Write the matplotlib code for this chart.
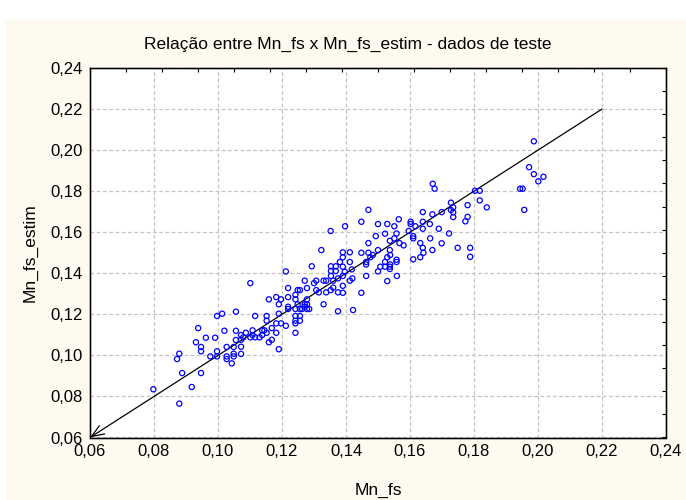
import numpy as np
import matplotlib
matplotlib.use("Agg")
import matplotlib.pyplot as plt
from matplotlib.ticker import FuncFormatter

plt.rcParams['font.family'] = ['Liberation Sans', 'DejaVu Sans']

mn_fs = [
    0.0798, 0.0879, 0.0918, 0.0888, 0.0872, 0.0879, 0.0938, 0.0931, 0.0947, 0.0947,
    0.0962, 0.0947, 0.0976, 0.0991, 0.0997, 0.1013, 0.0997, 0.0997, 0.1020, 0.1027,
    0.1027, 0.1027, 0.1043, 0.1049, 0.1049, 0.1049, 0.1056, 0.1056, 0.1056,
    0.1072, 0.1072, 0.1072, 0.1072, 0.1079, 0.1087, 0.1101, 0.1108, 0.1108, 0.1116,
    0.1130, 0.1138, 0.1145, 0.1138, 0.1101, 0.1116, 0.1152, 0.1152, 0.1152, 0.1159,
    0.1168, 0.1168, 0.1182, 0.1182, 0.1190, 0.1190, 0.1197, 0.1212, 0.1159, 0.1182,
    0.1190, 0.1197, 0.1212, 0.1219, 0.1219, 0.1219, 0.1219, 0.1242, 0.1242, 0.1242,
    0.1242, 0.1242, 0.1242, 0.1242, 0.1249, 0.1256, 0.1249, 0.1256, 0.1256, 0.1256,
    0.1263, 0.1271, 0.1271, 0.1271, 0.1278, 0.1278, 0.1278, 0.1278, 0.1285, 0.1293,
    0.1300, 0.1307, 0.1307, 0.1315, 0.1323, 0.1330, 0.1330, 0.1338, 0.1338, 0.1352,
    0.1352, 0.1353, 0.1353, 0.1353, 0.1360, 0.1360, 0.1368, 0.1368, 0.1375, 0.1375,
    0.1375,
    0.1470, 0.1448, 0.1397, 0.1671, 0.1677, 0.1640, 0.1670, 0.1602, 0.1602, 0.1617,
    0.1640, 0.1662, 0.1690, 0.1565, 0.1529, 0.1500, 0.1551, 0.1522, 0.1493, 0.1537,
    0.1567, 0.1580, 0.1558, 0.1551, 0.1596, 0.1610, 0.1610, 0.1640, 0.1632, 0.1663,
    0.1640, 0.1642, 0.1670, 0.1632, 0.1610, 0.1470, 0.1448, 0.1470, 0.1500, 0.1484,
    0.1476, 0.1463, 0.1463, 0.1537, 0.1529, 0.1538, 0.1538, 0.1522, 0.1507, 0.1522,
    0.1537, 0.1537, 0.1558, 0.1558, 0.1500, 0.1559, 0.1529, 0.1463, 0.1448, 0.1418,
    0.1412, 0.1412, 0.1390, 0.1390, 0.1390, 0.1390, 0.1390, 0.1381, 0.1396, 0.1390,
    0.1420, 0.1412, 0.1422,
    0.1987, 0.1972, 0.1987, 0.2001, 0.1944, 0.1952, 0.1957, 0.1803, 0.1818, 0.1818,
    0.1840, 0.1780, 0.1728, 0.1735, 0.1728, 0.1735, 0.1735, 0.1780, 0.1773, 0.1699,
    0.1722, 0.1699, 0.1749, 0.1788, 0.1788, 0.2017,
]
mn_fs_estim = [
    0.0835, 0.0765, 0.0846, 0.0914, 0.0982, 0.1008, 0.1133, 0.1064, 0.1041, 0.1020,
    0.1086, 0.0914, 0.0995, 0.1086, 0.1192, 0.1203, 0.1020, 0.0995, 0.1120, 0.1041,
    0.0995, 0.0982, 0.0961, 0.1041, 0.1008, 0.0995, 0.1213, 0.1120, 0.1075,
    0.1099, 0.1076, 0.1042, 0.1007, 0.1088, 0.1110, 0.1088, 0.1122, 0.1099, 0.1088,
    0.1088, 0.1122, 0.1122, 0.1099, 0.1352, 0.1192, 0.1192, 0.1169, 0.1110, 0.1064,
    0.1076, 0.1133, 0.1156, 0.1110, 0.1203, 0.1030, 0.1156, 0.1144, 0.1273, 0.1284,
    0.1249, 0.1273, 0.1409, 0.1328, 0.1284, 0.1237, 0.1226, 0.1295, 0.1273, 0.1226,
    0.1192, 0.1169, 0.1156, 0.1110, 0.1318, 0.1318, 0.1249, 0.1226, 0.1192, 0.1169,
    0.1226, 0.1364, 0.1249, 0.1237, 0.1328, 0.1273, 0.1249, 0.1226, 0.1226, 0.1434,
    0.1352, 0.1364, 0.1318, 0.1307, 0.1513, 0.1364, 0.1249, 0.1364, 0.1307, 0.1606,
    0.1318, 0.1434, 0.1411, 0.1387, 0.1364, 0.1330, 0.1434, 0.1411, 0.1375, 0.1307,
    0.1215,
    0.1709, 0.1651, 0.1629, 0.1836, 0.1812, 0.1698, 0.1687, 0.1651, 0.1640, 0.1629,
    0.1651, 0.1640, 0.1617, 0.1663, 0.1640, 0.1640, 0.1629, 0.1593, 0.1581, 0.1558,
    0.1547, 0.1536, 0.1594, 0.1570, 0.1606, 0.1581, 0.1570, 0.1617, 0.1547, 0.1570,
    0.1524, 0.1500, 0.1513, 0.1478, 0.1468, 0.1547, 0.1500, 0.1500, 0.1513, 0.1489,
    0.1478, 0.1455, 0.1443, 0.1513, 0.1478, 0.1489, 0.1443, 0.1455, 0.1432, 0.1432,
    0.1432, 0.1421, 0.1466, 0.1455, 0.1409, 0.1387, 0.1362, 0.1387, 0.1305, 0.1419,
    0.1455, 0.1502, 0.1502, 0.1478, 0.1432, 0.1339, 0.1305, 0.1455, 0.1407, 0.1387,
    0.1375, 0.1364, 0.1221,
    0.2043, 0.1917, 0.1883, 0.1848, 0.1812, 0.1812, 0.1709, 0.1802, 0.1802, 0.1755,
    0.1721, 0.1732, 0.1744, 0.1721, 0.1708, 0.1697, 0.1674, 0.1675, 0.1653, 0.1698,
    0.1594, 0.1546, 0.1524, 0.1524, 0.1480, 0.1870,
]

axis_min, axis_max = 0.06, 0.24
tick_values = [0.06, 0.08, 0.10, 0.12, 0.14, 0.16, 0.18, 0.20, 0.22, 0.24]
line_from, line_to = 0.06, 0.22

title = "Relação entre Mn_fs x Mn_fs_estim - dados de teste"

fig = plt.figure(figsize=(6.86, 5.0), dpi=100, facecolor="white")
# cream panel behind the plot, like the original export
panel = plt.Rectangle((5 / 686, 0), 1, 1 - 20 / 500, transform=fig.transFigure,
                      facecolor="#fffaf0", edgecolor="none", zorder=-10)
fig.patches.append(panel)

ax = fig.add_axes([90 / 686, 1 - 437.5 / 500, 576 / 686, 369.5 / 500])
ax.set_facecolor("white")

ax.set_xlim(axis_min, axis_max)
ax.set_ylim(axis_min, axis_max)
ax.set_xticks(tick_values)
ax.set_yticks(tick_values)
comma = FuncFormatter(lambda v, p: f"{v:.2f}".replace(".", ","))
ax.xaxis.set_major_formatter(comma)
ax.yaxis.set_major_formatter(comma)
ax.tick_params(axis="both", length=0, labelsize=12, pad=5)

ax.grid(True, color="#c4c4c4", linestyle=(0, (3, 2)), linewidth=0.9)
ax.set_axisbelow(True)
for s in ax.spines.values():
    s.set_linewidth(1.0)
    s.set_color("black")

# small inward ticks along top and right edges
minor = np.linspace(axis_min, axis_max, 17)
ax2 = ax.twiny()
ax2.set_xlim(axis_min, axis_max)
ax2.set_xticks(minor)
ax2.tick_params(axis="x", direction="in", length=3, labeltop=False, width=0.8)
ax3 = ax.twinx()
ax3.set_ylim(axis_min, axis_max)
ax3.set_yticks(minor)
ax3.tick_params(axis="y", direction="in", length=3, labelright=False, width=0.8)

ax.annotate("", xy=(line_from, line_from), xytext=(line_to, line_to),
            arrowprops=dict(arrowstyle="->,head_length=0.9,head_width=0.35",
                            color="black", lw=0.9, shrinkA=0, shrinkB=0))

ax.scatter(mn_fs, mn_fs_estim, s=14, facecolors="none", edgecolors="#0000ff",
           linewidths=0.9, zorder=3, clip_on=False)

fig.text(348 / 686, 1 - 44 / 500, title, ha="center", va="center", fontsize=12.5)
fig.text(378 / 686, 1 - 490 / 500, "Mn_fs", ha="center", va="center", fontsize=12.5)
fig.text(30 / 686, 1 - 253 / 500, "Mn_fs_estim", ha="center", va="center",
         rotation=90, fontsize=12.5)

fig.savefig("out.png", dpi=100, facecolor=fig.get_facecolor())
